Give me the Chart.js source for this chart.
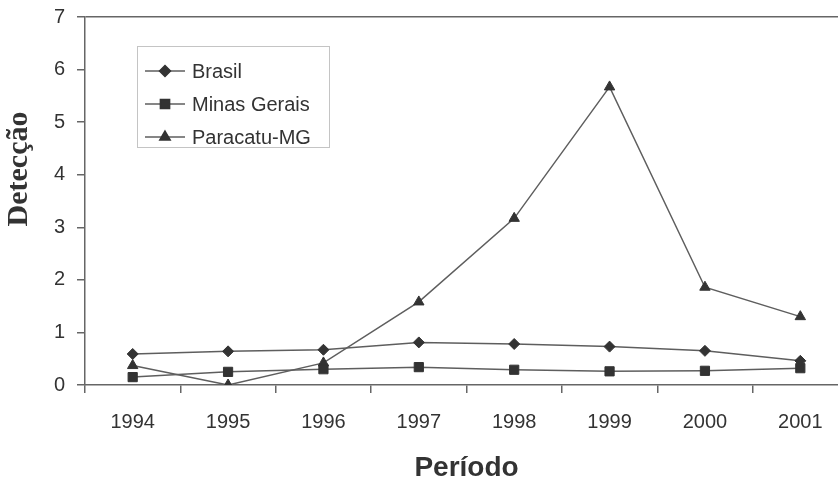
<!DOCTYPE html>
<html>
<head>
<meta charset="utf-8">
<script src="https://cdn.jsdelivr.net/npm/chart.js@4"></script>
<style>
  html, body { margin: 0; padding: 0; background: #fff; overflow: hidden; }
  #wrap { position: relative; width: 856px; height: 481px; }
</style>
</head>
<body>
<div id="wrap"><canvas id="chart"></canvas></div>
<script>
// Data
const years = ['1994', '1995', '1996', '1997', '1998', '1999', '2000', '2001'];
const brasil = [0.59, 0.64, 0.67, 0.81, 0.78, 0.73, 0.65, 0.46];
const minasGerais = [0.15, 0.25, 0.30, 0.34, 0.29, 0.26, 0.27, 0.32];
const paracatu = [0.37, 0.0, 0.42, 1.58, 3.17, 5.67, 1.86, 1.30];
const yTicks = [0, 1, 2, 3, 4, 5, 6, 7];

const lineColor = '#5e5e5e';
const markColor = '#333';
const axisColor = '#666';

// Legend drawn inside the plot, line + marker like the original
const legendBox = {
  id: 'legendBox',
  afterDraw(chart) {
    const ctx = chart.ctx;
    ctx.save();
    ctx.strokeStyle = '#c4c4c4';
    ctx.lineWidth = 1;
    ctx.strokeRect(137.5, 46.5, 192, 101);
    const rows = [71, 104, 137];
    chart.data.datasets.forEach((ds, i) => {
      const y = rows[i];
      ctx.strokeStyle = lineColor;
      ctx.lineWidth = 1.5;
      ctx.beginPath();
      ctx.moveTo(145, y);
      ctx.lineTo(185, y);
      ctx.stroke();
      ctx.fillStyle = markColor;
      ctx.strokeStyle = markColor;
      Chart.helpers.drawPoint(ctx, { pointStyle: ds.pointStyle, radius: ds.pointRadius, rotation: 0, borderWidth: 1 }, 165, y);
      ctx.fillStyle = '#333';
      ctx.font = '20px "Liberation Sans", Arial, sans-serif';
      ctx.textAlign = 'left';
      ctx.textBaseline = 'middle';
      ctx.fillText(ds.label, 192, y + 1);
    });
    // y axis title, placed as in the original (not centred on the axis)
    ctx.translate(19, 169);
    ctx.rotate(-Math.PI / 2);
    ctx.fillStyle = '#333';
    ctx.font = 'bold 30px "Liberation Serif", "Times New Roman", serif';
    ctx.textAlign = 'center';
    ctx.textBaseline = 'middle';
    ctx.fillText('Detecção', 0, 0);
    ctx.restore();
  }
};

function makeSet(label, data, style, radius) {
  return {
    label: label,
    data: data,
    borderColor: lineColor,
    borderWidth: 1.5,
    pointStyle: style,
    pointRadius: radius,
    pointBackgroundColor: markColor,
    pointBorderColor: markColor,
    pointBorderWidth: 1,
    tension: 0,
    fill: false
  };
}

const ctx = document.getElementById('chart').getContext('2d');
new Chart(ctx, {
  type: 'line',
  data: {
    labels: years,
    datasets: [
      makeSet('Brasil', brasil, 'rectRot', 5.5),
      makeSet('Minas Gerais', minasGerais, 'rect', 6.5),
      makeSet('Paracatu-MG', paracatu, 'triangle', 6)
    ]
  },
  options: {
    responsive: true,
    maintainAspectRatio: false,
    animation: false,
    layout: { padding: { left: 0, right: 8, top: 17, bottom: 0 } },
    plugins: {
      legend: { display: false },
      tooltip: { enabled: false }
    },
    scales: {
      x: {
        offset: true,
        grid: {
          offset: true,
          drawOnChartArea: false,
          drawTicks: true,
          tickLength: 8,
          tickColor: axisColor,
          lineWidth: 1.5
        },
        border: { color: axisColor, width: 1.5 },
        ticks: {
          color: '#333',
          padding: 17,
          font: { family: '"Liberation Sans", Arial, sans-serif', size: 20 }
        },
        title: {
          display: true,
          text: 'Período',
          color: '#333',
          padding: { top: 0, bottom: -4 },
          font: { family: '"Liberation Sans", Arial, sans-serif', size: 28, weight: 'bold' }
        },
        afterFit(scale) { scale.height = 96; }
      },
      y: {
        min: 0,
        max: 7,
        afterBuildTicks(scale) { scale.ticks = yTicks.map(v => ({ value: v })); },
        grid: {
          color: c => (c.tick && c.tick.value === 7 ? axisColor : 'rgba(0,0,0,0)'),
          tickColor: axisColor,
          tickLength: 8,
          lineWidth: 1.5
        },
        border: { color: axisColor, width: 1.5 },
        ticks: {
          color: '#333',
          padding: 12,
          font: { family: '"Liberation Sans", Arial, sans-serif', size: 20 }
        },
        afterFit(scale) {
          scale.width = 85;
          scale.paddingTop = 0;
          scale.paddingBottom = 0;
        }
      }
    }
  },
  plugins: [legendBox]
});
</script>
</body>
</html>
